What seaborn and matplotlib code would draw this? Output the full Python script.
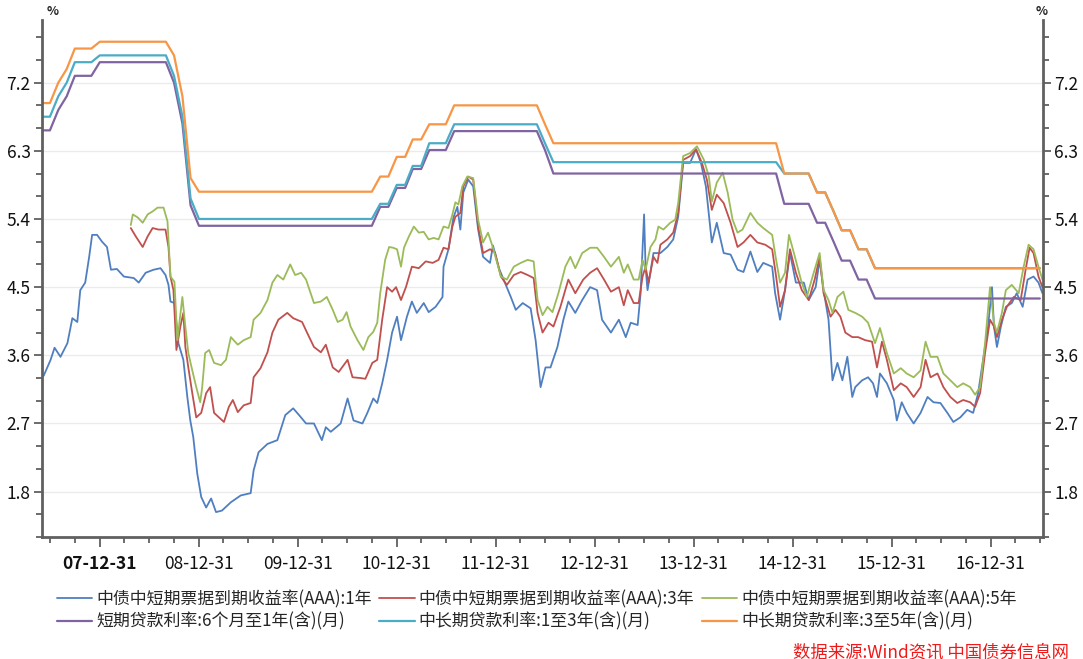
import numpy as np
import pandas as pd
import matplotlib
matplotlib.use("Agg")
import matplotlib.pyplot as plt
import matplotlib.dates as mdates
from matplotlib.ticker import MultipleLocator, FixedLocator
import seaborn as sns

# ---- data: (fractional year, yield %) ----
mtn_1y = [(2007.43, 3.33), (2007.50, 3.54), (2007.54, 3.70), (2007.60, 3.58), (2007.67, 3.76),
          (2007.72, 4.09), (2007.77, 4.04), (2007.80, 4.46), (2007.85, 4.56), (2007.89, 4.90),
          (2007.92, 5.19), (2007.97, 5.19), (2008.02, 5.10), (2008.07, 5.03), (2008.11, 4.73),
          (2008.17, 4.74), (2008.24, 4.64), (2008.34, 4.62), (2008.39, 4.56), (2008.46, 4.69),
          (2008.54, 4.73), (2008.61, 4.75), (2008.66, 4.66), (2008.69, 4.53), (2008.71, 4.31),
          (2008.75, 4.29), (2008.79, 3.76), (2008.84, 3.54), (2008.88, 3.05), (2008.91, 2.74),
          (2008.94, 2.52), (2008.98, 2.04), (2009.02, 1.73), (2009.07, 1.59), (2009.12, 1.71),
          (2009.17, 1.53), (2009.23, 1.55), (2009.32, 1.66), (2009.42, 1.75), (2009.52, 1.78),
          (2009.55, 2.08), (2009.60, 2.32), (2009.69, 2.43), (2009.79, 2.48), (2009.87, 2.81),
          (2009.95, 2.90), (2010.01, 2.81), (2010.08, 2.70), (2010.16, 2.70), (2010.24, 2.48),
          (2010.28, 2.65), (2010.33, 2.59), (2010.43, 2.70), (2010.50, 3.03), (2010.56, 2.74),
          (2010.65, 2.70), (2010.70, 2.84), (2010.76, 3.03), (2010.80, 2.97), (2010.85, 3.23),
          (2010.90, 3.54), (2010.95, 3.90), (2011.00, 4.11), (2011.04, 3.80), (2011.10, 4.11),
          (2011.15, 4.31), (2011.20, 4.16), (2011.27, 4.29), (2011.32, 4.17), (2011.39, 4.24),
          (2011.46, 4.37), (2011.47, 4.77), (2011.52, 5.00), (2011.57, 5.42), (2011.61, 5.56),
          (2011.64, 5.26), (2011.67, 5.75), (2011.72, 5.92), (2011.77, 5.83), (2011.82, 5.26),
          (2011.87, 4.90), (2011.94, 4.82), (2011.97, 5.05), (2012.03, 4.75), (2012.10, 4.53),
          (2012.15, 4.37), (2012.20, 4.20), (2012.27, 4.29), (2012.35, 4.22), (2012.40, 3.80),
          (2012.45, 3.18), (2012.50, 3.44), (2012.55, 3.44), (2012.62, 3.71), (2012.68, 4.07),
          (2012.73, 4.31), (2012.80, 4.16), (2012.87, 4.33), (2012.95, 4.50), (2013.02, 4.46),
          (2013.07, 4.07), (2013.16, 3.90), (2013.24, 4.07), (2013.31, 3.84), (2013.36, 4.03),
          (2013.43, 4.00), (2013.46, 4.42), (2013.495, 5.46), (2013.51, 4.77), (2013.53, 4.46),
          (2013.59, 4.95), (2013.66, 4.95), (2013.73, 5.03), (2013.79, 5.13), (2013.84, 5.43),
          (2013.89, 6.14), (2013.96, 6.14), (2014.02, 6.32), (2014.07, 6.14), (2014.12, 5.83),
          (2014.18, 5.09), (2014.23, 5.35), (2014.30, 4.95), (2014.37, 4.93), (2014.44, 4.73),
          (2014.50, 4.70), (2014.57, 4.97), (2014.64, 4.70), (2014.70, 4.82), (2014.79, 4.77),
          (2014.82, 4.42), (2014.87, 4.07), (2014.92, 4.46), (2014.97, 4.95), (2015.03, 4.56),
          (2015.11, 4.56), (2015.16, 4.33), (2015.23, 4.50), (2015.27, 4.86), (2015.31, 4.46),
          (2015.36, 4.07), (2015.40, 3.27), (2015.45, 3.50), (2015.50, 3.27), (2015.55, 3.58),
          (2015.60, 3.05), (2015.63, 3.18), (2015.70, 3.27), (2015.76, 3.31), (2015.81, 3.23),
          (2015.85, 3.05), (2015.88, 3.36), (2015.95, 3.23), (2016.02, 3.01), (2016.05, 2.74),
          (2016.10, 2.98), (2016.15, 2.84), (2016.22, 2.70), (2016.29, 2.84), (2016.36, 3.05),
          (2016.42, 2.98), (2016.49, 2.97), (2016.56, 2.84), (2016.62, 2.72), (2016.69, 2.78),
          (2016.76, 2.88), (2016.82, 2.84), (2016.87, 3.10), (2016.92, 3.54), (2016.97, 3.98),
          (2017.01, 4.50), (2017.03, 3.98), (2017.06, 3.71), (2017.10, 3.98), (2017.15, 4.24),
          (2017.21, 4.29), (2017.26, 4.42), (2017.32, 4.24), (2017.37, 4.60), (2017.43, 4.64),
          (2017.48, 4.56), (2017.52, 4.42)]

mtn_3y = [(2008.31, 5.28), (2008.36, 5.17), (2008.43, 5.03), (2008.48, 5.17), (2008.53, 5.28),
          (2008.59, 5.26), (2008.66, 5.26), (2008.69, 5.03), (2008.71, 4.64), (2008.74, 4.46),
          (2008.77, 3.67), (2008.81, 3.98), (2008.84, 4.16), (2008.86, 3.71), (2008.89, 3.44),
          (2008.93, 3.10), (2008.97, 2.78), (2009.02, 2.84), (2009.07, 3.10), (2009.11, 3.18),
          (2009.15, 2.84), (2009.20, 2.78), (2009.25, 2.72), (2009.30, 2.92), (2009.34, 3.01),
          (2009.39, 2.85), (2009.45, 2.94), (2009.52, 2.97), (2009.55, 3.31), (2009.62, 3.43),
          (2009.69, 3.64), (2009.74, 3.90), (2009.80, 4.07), (2009.89, 4.16), (2009.95, 4.09),
          (2010.04, 4.04), (2010.09, 3.90), (2010.16, 3.71), (2010.23, 3.64), (2010.28, 3.74),
          (2010.35, 3.44), (2010.41, 3.38), (2010.50, 3.54), (2010.55, 3.31), (2010.63, 3.30),
          (2010.68, 3.29), (2010.75, 3.50), (2010.80, 3.54), (2010.85, 4.07), (2010.90, 4.50),
          (2010.95, 4.44), (2010.99, 4.50), (2011.04, 4.33), (2011.09, 4.50), (2011.15, 4.77),
          (2011.22, 4.75), (2011.29, 4.84), (2011.36, 4.82), (2011.42, 4.86), (2011.47, 5.02),
          (2011.52, 5.00), (2011.56, 5.30), (2011.59, 5.43), (2011.64, 5.48), (2011.67, 5.83),
          (2011.72, 5.96), (2011.77, 5.92), (2011.82, 5.30), (2011.87, 4.95), (2011.94, 5.00),
          (2011.99, 4.96), (2012.05, 4.64), (2012.11, 4.53), (2012.18, 4.66), (2012.25, 4.70),
          (2012.32, 4.66), (2012.38, 4.62), (2012.42, 4.16), (2012.47, 3.90), (2012.53, 4.03),
          (2012.58, 3.98), (2012.65, 4.24), (2012.73, 4.60), (2012.80, 4.42), (2012.88, 4.60),
          (2012.95, 4.69), (2013.02, 4.75), (2013.09, 4.60), (2013.16, 4.44), (2013.24, 4.50),
          (2013.29, 4.26), (2013.33, 4.46), (2013.39, 4.29), (2013.44, 4.29), (2013.48, 4.64),
          (2013.51, 4.77), (2013.54, 4.56), (2013.59, 4.90), (2013.63, 4.82), (2013.66, 5.06),
          (2013.73, 5.13), (2013.79, 5.22), (2013.84, 5.48), (2013.89, 6.18), (2013.96, 6.23),
          (2014.02, 6.32), (2014.08, 6.14), (2014.13, 5.92), (2014.18, 5.52), (2014.23, 5.72),
          (2014.30, 5.61), (2014.37, 5.35), (2014.44, 5.03), (2014.50, 5.09), (2014.57, 5.19),
          (2014.64, 5.09), (2014.72, 5.06), (2014.79, 5.00), (2014.83, 4.64), (2014.87, 4.24),
          (2014.92, 4.46), (2014.97, 5.00), (2015.03, 4.69), (2015.09, 4.46), (2015.16, 4.33),
          (2015.22, 4.60), (2015.27, 4.90), (2015.31, 4.42), (2015.38, 4.11), (2015.43, 4.20),
          (2015.48, 4.11), (2015.53, 3.90), (2015.60, 3.84), (2015.66, 3.84), (2015.73, 3.80),
          (2015.80, 3.78), (2015.85, 3.44), (2015.90, 3.78), (2015.95, 3.54), (2016.02, 3.14),
          (2016.09, 3.23), (2016.15, 3.18), (2016.22, 3.05), (2016.29, 3.18), (2016.34, 3.54),
          (2016.39, 3.31), (2016.46, 3.36), (2016.52, 3.18), (2016.59, 3.05), (2016.66, 2.97),
          (2016.72, 3.01), (2016.79, 2.98), (2016.84, 2.92), (2016.89, 3.10), (2016.94, 3.63),
          (2016.99, 4.07), (2017.03, 3.98), (2017.06, 3.84), (2017.11, 4.07), (2017.16, 4.24),
          (2017.23, 4.37), (2017.30, 4.33), (2017.35, 4.73), (2017.39, 5.02), (2017.43, 4.95),
          (2017.48, 4.64), (2017.52, 4.50)]

mtn_5y = [(2008.31, 5.32), (2008.33, 5.46), (2008.38, 5.42), (2008.43, 5.35), (2008.48, 5.46),
          (2008.53, 5.50), (2008.58, 5.55), (2008.64, 5.55), (2008.68, 5.37), (2008.71, 4.64),
          (2008.75, 4.57), (2008.78, 3.80), (2008.83, 4.37), (2008.86, 3.98), (2008.89, 3.63),
          (2008.93, 3.40), (2008.97, 3.18), (2009.01, 2.98), (2009.03, 3.18), (2009.06, 3.63),
          (2009.10, 3.67), (2009.15, 3.50), (2009.22, 3.47), (2009.27, 3.54), (2009.32, 3.84),
          (2009.39, 3.74), (2009.45, 3.80), (2009.52, 3.84), (2009.55, 4.07), (2009.62, 4.16),
          (2009.69, 4.33), (2009.74, 4.56), (2009.79, 4.66), (2009.85, 4.60), (2009.92, 4.80),
          (2009.97, 4.66), (2010.03, 4.69), (2010.08, 4.60), (2010.16, 4.29), (2010.23, 4.31),
          (2010.29, 4.37), (2010.35, 4.20), (2010.40, 4.04), (2010.45, 4.07), (2010.49, 4.17),
          (2010.53, 3.98), (2010.60, 3.80), (2010.66, 3.67), (2010.71, 3.84), (2010.76, 3.91),
          (2010.80, 4.03), (2010.83, 4.42), (2010.88, 4.86), (2010.92, 5.03), (2010.96, 5.02),
          (2011.00, 5.00), (2011.04, 4.77), (2011.07, 5.02), (2011.12, 5.17), (2011.17, 5.30),
          (2011.22, 5.22), (2011.27, 5.23), (2011.32, 5.13), (2011.37, 5.15), (2011.42, 5.13),
          (2011.47, 5.30), (2011.52, 5.28), (2011.56, 5.46), (2011.59, 5.62), (2011.62, 5.59),
          (2011.66, 5.83), (2011.71, 5.96), (2011.77, 5.94), (2011.82, 5.39), (2011.87, 5.09),
          (2011.92, 5.22), (2011.97, 5.02), (2012.05, 4.64), (2012.11, 4.60), (2012.18, 4.77),
          (2012.25, 4.82), (2012.32, 4.86), (2012.38, 4.84), (2012.42, 4.33), (2012.47, 4.13),
          (2012.52, 4.24), (2012.57, 4.17), (2012.63, 4.42), (2012.70, 4.77), (2012.75, 4.90),
          (2012.80, 4.75), (2012.87, 4.95), (2012.95, 5.02), (2013.02, 5.02), (2013.09, 4.90),
          (2013.16, 4.77), (2013.24, 4.90), (2013.29, 4.69), (2013.33, 4.80), (2013.39, 4.60),
          (2013.44, 4.60), (2013.48, 4.86), (2013.51, 4.73), (2013.56, 5.03), (2013.61, 5.13),
          (2013.64, 5.30), (2013.69, 5.26), (2013.76, 5.35), (2013.81, 5.39), (2013.84, 5.61),
          (2013.89, 6.23), (2013.96, 6.27), (2014.03, 6.36), (2014.10, 6.18), (2014.15, 5.96),
          (2014.18, 5.63), (2014.23, 5.88), (2014.29, 6.01), (2014.34, 5.75), (2014.39, 5.39),
          (2014.44, 5.22), (2014.49, 5.26), (2014.57, 5.48), (2014.64, 5.35), (2014.70, 5.28),
          (2014.79, 5.19), (2014.83, 4.86), (2014.87, 4.56), (2014.92, 4.69), (2014.96, 5.19),
          (2015.01, 4.95), (2015.08, 4.60), (2015.14, 4.37), (2015.21, 4.69), (2015.27, 4.95),
          (2015.31, 4.46), (2015.36, 4.33), (2015.40, 4.16), (2015.45, 4.37), (2015.51, 4.44),
          (2015.56, 4.20), (2015.63, 4.16), (2015.70, 4.11), (2015.76, 4.03), (2015.83, 3.76),
          (2015.88, 3.96), (2015.95, 3.63), (2016.02, 3.36), (2016.09, 3.43), (2016.15, 3.36),
          (2016.22, 3.31), (2016.29, 3.40), (2016.34, 3.78), (2016.39, 3.58), (2016.46, 3.58),
          (2016.52, 3.36), (2016.59, 3.27), (2016.66, 3.18), (2016.72, 3.23), (2016.79, 3.18),
          (2016.84, 3.08), (2016.89, 3.18), (2016.94, 3.76), (2016.99, 4.50), (2017.03, 4.03),
          (2017.06, 3.90), (2017.11, 4.16), (2017.15, 4.46), (2017.21, 4.53), (2017.28, 4.42),
          (2017.33, 4.77), (2017.38, 5.06), (2017.43, 5.00), (2017.48, 4.77), (2017.52, 4.60)]

# benchmark loan rate changes (effective date) -> monthly series
rate_dates = ["2007-05-19", "2007-07-21", "2007-08-22", "2007-09-15", "2007-12-21",
              "2008-09-16", "2008-10-09", "2008-10-30", "2008-11-27", "2008-12-23",
              "2010-10-20", "2010-12-26", "2011-02-09", "2011-04-06", "2011-07-07",
              "2012-06-08", "2012-07-06", "2014-11-22", "2015-03-01", "2015-05-11",
              "2015-06-28", "2015-08-26", "2015-10-24"]
loan_6m1y = [6.57, 6.84, 7.02, 7.29, 7.47, 7.20, 6.93, 6.66, 5.58, 5.31, 5.56, 5.81,
             6.06, 6.31, 6.56, 6.31, 6.00, 5.60, 5.35, 5.10, 4.85, 4.60, 4.35]
loan_1y3y = [6.75, 7.02, 7.20, 7.47, 7.56, 7.29, 7.02, 6.75, 5.67, 5.40, 5.60, 5.85,
             6.10, 6.40, 6.65, 6.40, 6.15, 6.00, 5.75, 5.50, 5.25, 5.00, 4.75]
loan_3y5y = [6.93, 7.20, 7.38, 7.65, 7.74, 7.56, 7.29, 7.02, 5.94, 5.76, 5.96, 6.22,
             6.45, 6.65, 6.90, 6.65, 6.40, 6.00, 5.75, 5.50, 5.25, 5.00, 4.75]

labels = ["中债中短期票据到期收益率(AAA):1年", "中债中短期票据到期收益率(AAA):3年",
          "中债中短期票据到期收益率(AAA):5年", "短期贷款利率:6个月至1年(含)(月)",
          "中长期贷款利率:1至3年(含)(月)", "中长期贷款利率:3至5年(含)(月)"]
colors = ["#4F7FC0", "#C0504D", "#9BBB59", "#8064A2", "#4BACC6", "#F79646"]
year_ends = ["%d-12-31" % y for y in range(2007, 2017)]


def to_date(t):
    y = int(t)
    start = pd.Timestamp(y, 1, 1)
    return start + (pd.Timestamp(y + 1, 1, 1) - start) * (t - y)


def series(pairs):
    return pd.DataFrame({"date": [to_date(t) for t, _ in pairs], "value": [v for _, v in pairs]})


months = pd.date_range("2007-05-31", "2017-06-30", freq="ME")
idx = np.searchsorted(pd.to_datetime(rate_dates).values, months.values, side="right") - 1

sns.set_theme(style="white")
plt.rcParams["font.family"] = ["Noto Sans CJK SC", "DejaVu Sans"]
plt.rcParams["axes.unicode_minus"] = False

fig = plt.figure(figsize=(10.83, 6.59), dpi=100)
ax = fig.add_axes([0.0385, 0.185, 0.9245, 0.785])

for i, pairs in enumerate([mtn_1y, mtn_3y, mtn_5y]):
    df = series(pairs)
    sns.lineplot(data=df, x="date", y="value", ax=ax, color=colors[i], lw=1.3, label=labels[i])
for j, rates in enumerate([loan_6m1y, loan_1y3y, loan_3y5y]):
    df = pd.DataFrame({"date": months, "value": np.array(rates)[idx]})
    sns.lineplot(data=df, x="date", y="value", ax=ax, color=colors[3 + j], lw=1.6, label=labels[3 + j])

ax.set_xlim(to_date(2007.41), to_date(2017.525))
ax.set_ylim(1.2, 8.03)
ax.set_xlabel("")
ax.set_ylabel("")

# y axis on both sides
ax.yaxis.set_major_locator(FixedLocator([1.8, 2.7, 3.6, 4.5, 5.4, 6.3, 7.2]))
ax.yaxis.set_minor_locator(MultipleLocator(0.3))
ax.yaxis.set_major_formatter(matplotlib.ticker.FormatStrFormatter("%.1f"))
ax.grid(axis="y", which="major", color="#EBEBEB", lw=1)
ax.tick_params(axis="y", which="both", left=True, right=True, labelleft=True, labelright=True,
               direction="out", color="#606060", labelsize=12.5, labelcolor="#111111", pad=2)
ax.tick_params(axis="y", which="major", length=6, width=1.3)
ax.tick_params(axis="y", which="minor", length=4, width=1.3)

# x axis dates: year ends labelled, quarter ends as minor ticks
ax.xaxis.set_major_locator(FixedLocator(mdates.date2num(pd.to_datetime(year_ends))))
ax.xaxis.set_minor_locator(FixedLocator(mdates.date2num(
    pd.date_range("2007-06-30", "2017-06-30", freq="QE"))))
ax.xaxis.set_major_formatter(mdates.DateFormatter("%y-%m-%d"))
ax.tick_params(axis="x", which="both", bottom=True, direction="out", color="#606060",
               labelsize=12.5, labelcolor="#111111")
ax.tick_params(axis="x", which="major", length=7, width=1.3, pad=6)
ax.tick_params(axis="x", which="minor", length=4, width=1.3)

for side in ["left", "right", "bottom"]:
    ax.spines[side].set_color("#606060")
    ax.spines[side].set_linewidth(2)
ax.spines["top"].set_visible(False)

fig.canvas.draw()
ax.get_xticklabels()[0].set_fontweight("bold")

fig.text(0.043, 0.972, "%", fontsize=9, fontweight="bold", ha="left", va="bottom")
fig.text(0.956, 0.972, "%", fontsize=9, fontweight="bold", ha="left", va="bottom")

h, l = ax.get_legend_handles_labels()
order = [0, 3, 1, 4, 2, 5]
ax.legend([h[k] for k in order], [l[k] for k in order], ncol=3, loc="upper left",
          bbox_to_anchor=(0.046, 0.115), bbox_transform=fig.transFigure, frameon=False,
          fontsize=12.2, handlelength=2.1, handletextpad=0.22, columnspacing=0.45,
          labelspacing=0.25, borderaxespad=0)

fig.text(0.987, -0.003, "数据来源:Wind资讯 中国债券信息网", color="#F01818", fontsize=12.5,
         style="italic", ha="right", va="bottom")

fig.savefig("out.png", dpi=100)
